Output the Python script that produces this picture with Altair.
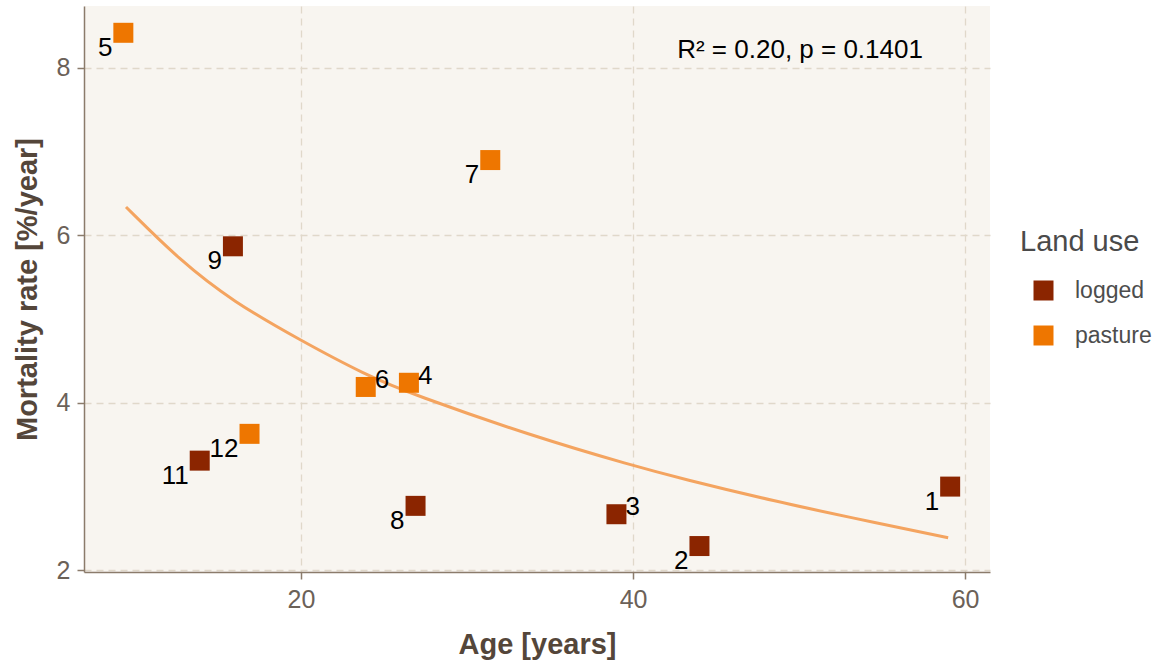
import altair as alt
import pandas as pd

# ---- data ----
site = [1, 2, 3, 4, 5, 6, 7, 8, 9, 11, 12]
age = [59.1, 44.0, 39.0, 26.5, 9.3, 23.9, 31.4, 26.9, 15.9, 13.9, 16.9]
mortality = [3.00, 2.29, 2.67, 4.24, 8.42, 4.19, 6.90, 2.77, 5.87, 3.31, 3.63]
land_use = ["logged", "logged", "logged", "pasture", "pasture", "pasture",
            "pasture", "logged", "logged", "logged", "pasture"]
label_side = ["left", "left", "right", "right", "left", "right",
              "left", "left", "left", "left", "left"]

fit_age = [9.46, 12.71, 15.90, 19.94, 23.92, 26.75, 33.98, 40.0, 42.83, 48.86, 52.89, 58.98]
fit_mort = [6.34, 5.70, 5.21, 4.75, 4.33, 4.10, 3.60, 3.25, 3.10, 2.81, 2.64, 2.39]

note_text = ["R² = 0.20, p = 0.1401"]
note_x = [50.06]
note_y = [8.21]

x_ticks = [20, 40, 60]
y_ticks = [2, 4, 6, 8]

pts = pd.DataFrame({"site": [str(s) for s in site], "age": age, "mort": mortality,
                    "use": land_use, "side": label_side})
fit = pd.DataFrame({"age": fit_age, "mort": fit_mort})
note = pd.DataFrame({"t": note_text, "x": note_x, "y": note_y})

FONT = "Liberation Sans"
xs = alt.Scale(domain=[6.93, 61.5], nice=False, zero=False)
ys = alt.Scale(domain=[1.98, 8.74], nice=False, zero=False)

xax = alt.Axis(values=x_ticks, title="Age [years]", format="d")
yax = alt.Axis(values=y_ticks, title="Mortality rate [%/year]", format="d")

line = alt.Chart(fit).mark_line(color="#F4A460", strokeWidth=3, interpolate="basis").encode(
    x=alt.X("age:Q", scale=xs, axis=xax),
    y=alt.Y("mort:Q", scale=ys, axis=yax),
)

points = alt.Chart(pts).mark_point(shape="square", filled=True, size=400, opacity=1).encode(
    x=alt.X("age:Q", scale=xs),
    y=alt.Y("mort:Q", scale=ys),
    color=alt.Color("use:N", title="Land use",
                    scale=alt.Scale(domain=["logged", "pasture"], range=["#8B2500", "#EE7600"]),
                    legend=alt.Legend(orient="none", legendX=936, legendY=222,
                                      symbolType="square", symbolSize=400,
                                      symbolOffset=12, labelOffset=20, rowPadding=21,
                                      titlePadding=22)),
)

lab_left = alt.Chart(pts).transform_filter(alt.datum.side == "left").mark_text(
    align="right", baseline="middle", dx=-11, dy=15, fontSize=26, font=FONT, color="#000000"
).encode(x=alt.X("age:Q", scale=xs), y=alt.Y("mort:Q", scale=ys), text="site:N")

lab_right = alt.Chart(pts).transform_filter(alt.datum.side == "right").mark_text(
    align="left", baseline="middle", dx=9, dy=-7, fontSize=26, font=FONT, color="#000000"
).encode(x=alt.X("age:Q", scale=xs), y=alt.Y("mort:Q", scale=ys), text="site:N")

ann = alt.Chart(note).mark_text(
    align="center", baseline="middle", fontSize=26, font=FONT, color="#000000"
).encode(x=alt.X("x:Q", scale=xs), y=alt.Y("y:Q", scale=ys), text="t:N")

chart = alt.layer(line, points, lab_left, lab_right, ann).properties(
    width=906, height=566,
    autosize=alt.AutoSizeParams(type="none"),
    padding={"left": 84, "top": 6, "right": 178, "bottom": 91},
    background="#FFFFFF",
).configure_view(
    fill="#F8F5F0", stroke=None
).configure_axis(
    labelFont=FONT, titleFont=FONT,
    labelFontSize=25, labelColor="#6B6158",
    titleFontSize=29, titleFontWeight="bold", titleColor="#54463A",
    domainColor="#8B7B6B", domainWidth=1.5,
    tickColor="#8B7B6B", tickSize=7, tickWidth=1.5,
    grid=True, gridColor="#E0D8CA", gridDash=[7, 5], gridWidth=1.3,
).configure_axisX(
    labelPadding=8, titlePadding=18,
).configure_axisY(
    labelPadding=7, titlePadding=14,
).configure_legend(
    titleFont=FONT, labelFont=FONT, titleFontSize=29, titleFontWeight="normal",
    titleColor="#4A4A4A", labelFontSize=23, labelColor="#4D4D4D",
)

chart.save("out.html", embed_options={"renderer": "svg", "actions": False})
